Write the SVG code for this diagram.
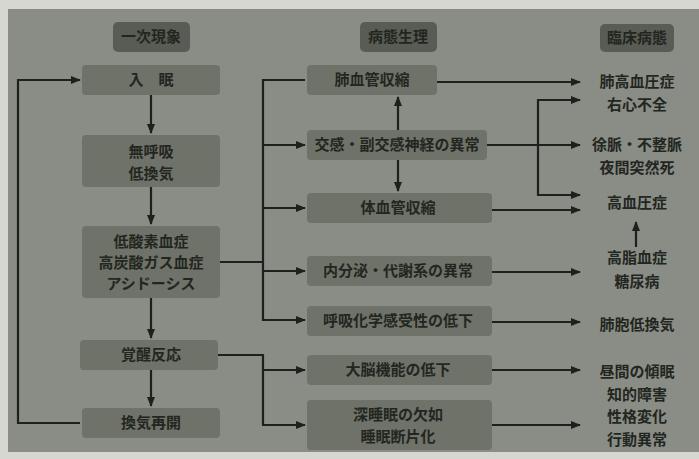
<svg xmlns="http://www.w3.org/2000/svg" width="699" height="459" viewBox="0 0 699 459">
<style>
.bx{fill:#6e7269;}
.hd{fill:#585c54;}
.t{font-family:"Noto Sans CJK JP","Noto Sans CJK SC",sans-serif;font-size:15px;fill:#23261f;text-anchor:middle;font-weight:bold;}
.ln{stroke:#1e201c;stroke-width:2.2;fill:none;}
</style>
<defs>
<marker id="ah" markerWidth="10" markerHeight="10" refX="9" refY="5" orient="auto" markerUnits="userSpaceOnUse">
<path d="M0,1 L10,5 L0,9 Z" fill="#1e201c"/>
</marker>
</defs>
<rect x="0" y="0" width="699" height="459" fill="#d6d7cf"/>
<rect x="8" y="9" width="691" height="443" fill="#898d85"/>

<g id="h1"><rect class="hd" x="113" y="22" width="77" height="30" rx="5"/><text class="t" x="151" y="42">一次現象</text></g>
<g id="h2"><rect class="hd" x="360" y="22" width="77" height="30" rx="5"/><text class="t" x="398" y="42">病態生理</text></g>
<g id="h3"><rect class="hd" x="600" y="24" width="74" height="28" rx="5"/><text class="t" x="637" y="43">臨床病態</text></g>

<g id="n1"><rect class="bx" x="82" y="65" width="138" height="30" rx="4"/><text class="t" x="151" y="85">入　眠</text></g>
<g id="n2"><rect class="bx" x="82" y="135" width="138" height="52" rx="4"/><text class="t" x="151" y="157">無呼吸</text><text class="t" x="151" y="179">低換気</text></g>
<g id="n3"><rect class="bx" x="82" y="226" width="138" height="72" rx="4"/><text class="t" x="151" y="247">低酸素血症</text><text class="t" x="151" y="268">高炭酸ガス血症</text><text class="t" x="151" y="289">アシドーシス</text></g>
<g id="n4"><rect class="bx" x="80" y="340" width="138" height="30" rx="4"/><text class="t" x="151" y="360">覚醒反応</text></g>
<g id="n5"><rect class="bx" x="82" y="408" width="138" height="30" rx="4"/><text class="t" x="151" y="428">換気再開</text></g>

<g id="m1"><rect class="bx" x="307" y="65" width="130" height="30" rx="4"/><text class="t" x="372" y="85">肺血管収縮</text></g>
<g id="m2"><rect class="bx" x="307" y="130" width="180" height="30" rx="4"/><text class="t" x="397" y="150">交感・副交感神経の異常</text></g>
<g id="m3"><rect class="bx" x="307" y="193" width="185" height="30" rx="4"/><text class="t" x="398" y="213">体血管収縮</text></g>
<g id="m4"><rect class="bx" x="307" y="256" width="185" height="30" rx="4"/><text class="t" x="398" y="276">内分泌・代謝系の異常</text></g>
<g id="m5"><rect class="bx" x="307" y="306" width="185" height="30" rx="4"/><text class="t" x="398" y="326">呼吸化学感受性の低下</text></g>
<g id="m6"><rect class="bx" x="307" y="355" width="185" height="30" rx="4"/><text class="t" x="398" y="375">大脳機能の低下</text></g>
<g id="m7"><rect class="bx" x="307" y="400" width="185" height="50" rx="4"/><text class="t" x="398" y="420">深睡眠の欠如</text><text class="t" x="398" y="442">睡眠断片化</text></g>

<g id="r1"><text class="t" x="637" y="87">肺高血圧症</text><text class="t" x="637" y="110">右心不全</text></g>
<g id="r2"><text class="t" x="637" y="150">徐脈・不整脈</text><text class="t" x="637" y="173">夜間突然死</text></g>
<g id="r3"><text class="t" x="637" y="208">高血圧症</text></g>
<g id="r4"><text class="t" x="637" y="263">高脂血症</text><text class="t" x="637" y="287">糖尿病</text></g>
<g id="r5"><text class="t" x="637" y="330">肺胞低換気</text></g>
<g id="r6"><text class="t" x="637" y="377">昼間の傾眠</text><text class="t" x="637" y="400">知的障害</text><text class="t" x="637" y="422">性格変化</text><text class="t" x="637" y="445">行動異常</text></g>

<g id="connectors">
<path class="ln" d="M151,95 V133" marker-end="url(#ah)"/>
<path class="ln" d="M151,187 V224" marker-end="url(#ah)"/>
<path class="ln" d="M151,298 V338" marker-end="url(#ah)"/>
<path class="ln" d="M151,370 V406" marker-end="url(#ah)"/>
<path class="ln" d="M80,423 H18 V80 H80" marker-end="url(#ah)"/>
<path class="ln" d="M220,262 H263"/>
<path class="ln" d="M305,80 H263 V320 H305" marker-end="url(#ah)"/>
<path class="ln" d="M263,145 H305" marker-end="url(#ah)"/>
<path class="ln" d="M263,208 H305" marker-end="url(#ah)"/>
<path class="ln" d="M263,271 H305" marker-end="url(#ah)"/>
<path class="ln" d="M218,355 H263 V425 H305" marker-end="url(#ah)"/>
<path class="ln" d="M263,370 H305" marker-end="url(#ah)"/>
<path class="ln" d="M398,130 V97" marker-end="url(#ah)"/>
<path class="ln" d="M398,160 V191" marker-end="url(#ah)"/>
<path class="ln" d="M437,82 H580" marker-end="url(#ah)"/>
<path class="ln" d="M487,145 H580" marker-end="url(#ah)"/>
<path class="ln" d="M580,100 H538 V195 H580" marker-end="url(#ah)"/>
<path class="ln" d="M538,100 H580" marker-end="url(#ah)"/>
<path class="ln" d="M492,210 H580" marker-end="url(#ah)"/>
<path class="ln" d="M492,272 H580" marker-end="url(#ah)"/>
<path class="ln" d="M636,247 V222" marker-end="url(#ah)"/>
<path class="ln" d="M492,322 H580" marker-end="url(#ah)"/>
<path class="ln" d="M492,370 H580" marker-end="url(#ah)"/>
<path class="ln" d="M492,425 H580" marker-end="url(#ah)"/>
</g>
</svg>
